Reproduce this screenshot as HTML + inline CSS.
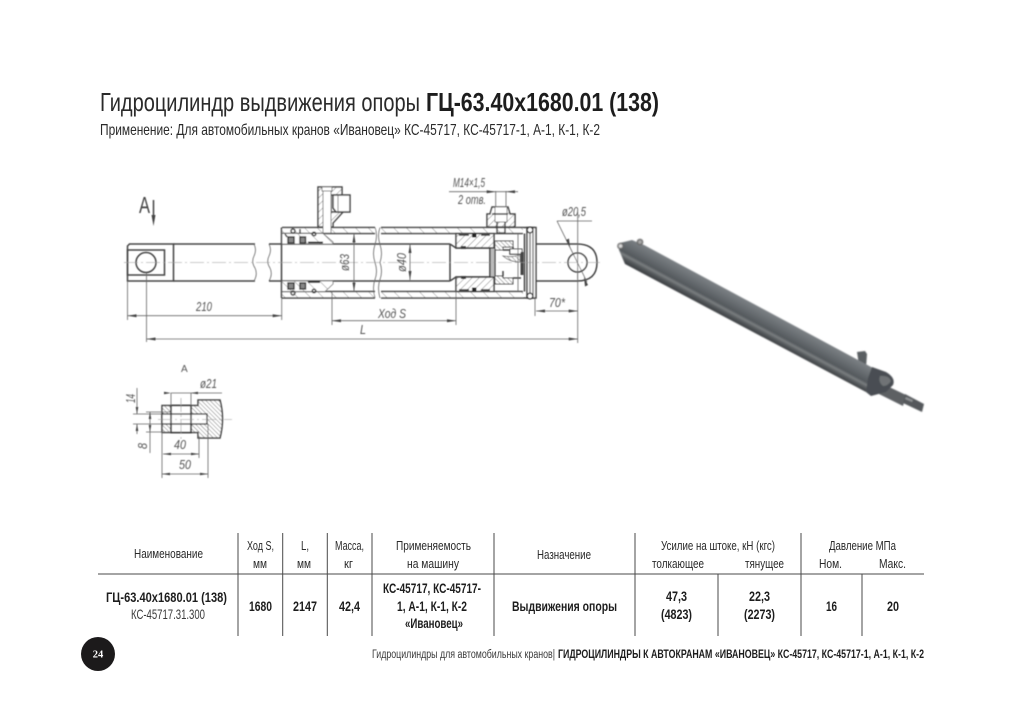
<!DOCTYPE html>
<html lang="ru"><head><meta charset="utf-8"><title>ГЦ-63.40х1680.01 (138)</title>
<style>
html,body{margin:0;padding:0;background:#fff}
svg{display:block}
text{font-family:"Liberation Sans Narrow","Liberation Sans",sans-serif;fill:#2a2a2a}
.b{font-weight:700;fill:#1d1d1d}
.h{font-size:13px;fill:#333}
.v{font-size:14px}
.d{font-family:"Liberation Sans",sans-serif;font-style:italic;font-size:12.5px;fill:#555}
.o{stroke:#444;stroke-width:1.5}
.k{stroke:#333;stroke-width:2}
.t{stroke:#666;stroke-width:.8}
.c{stroke:#999;stroke-width:.6;stroke-dasharray:14 3 2 3}
.a{fill:#444}
</style></head><body>
<svg width="1024" height="724" viewBox="0 0 1024 724" xmlns="http://www.w3.org/2000/svg">
<defs>
<pattern id="hh" width="9" height="9" patternUnits="userSpaceOnUse" patternTransform="rotate(-45)"><rect width="9" height="9" fill="#fff"/><line x1="0" y1="0" x2="0" y2="9" stroke="#888" stroke-width="1"/></pattern>
<pattern id="hm" width="5" height="5" patternUnits="userSpaceOnUse" patternTransform="rotate(45)"><rect width="5" height="5" fill="#fff"/><line x1="0" y1="0" x2="0" y2="5" stroke="#777" stroke-width="1"/></pattern>
<pattern id="hb" width="3" height="3" patternUnits="userSpaceOnUse" patternTransform="rotate(-45)"><rect width="3" height="3" fill="#fff"/><line x1="0" y1="0" x2="0" y2="3" stroke="#666" stroke-width="1"/></pattern>
<filter id="s" x="-5%" y="-5%" width="110%" height="110%"><feGaussianBlur stdDeviation=".4"/></filter>
<filter id="s2" x="-5%" y="-5%" width="110%" height="110%"><feGaussianBlur stdDeviation=".8"/></filter>
<linearGradient id="tube" gradientUnits="userSpaceOnUse" x1="748.800" y1="301.800" x2="737.200" y2="323.400">
<stop offset="0" stop-color="#7b8084"/><stop offset=".35" stop-color="#666b6f"/><stop offset=".62" stop-color="#54595d"/><stop offset=".72" stop-color="#7a7e80"/><stop offset=".84" stop-color="#55595c"/><stop offset="1" stop-color="#3e4144"/>
</linearGradient>
</defs>

<text x="100" y="111" font-size="26" textLength="320" lengthAdjust="spacingAndGlyphs">Гидроцилиндр выдвижения опоры</text>
<text class="b" x="426" y="111" font-size="26" textLength="233" lengthAdjust="spacingAndGlyphs">ГЦ-63.40х1680.01 (138)</text>
<text x="100" y="135" font-size="16" textLength="500" lengthAdjust="spacingAndGlyphs">Применение: Для автомобильных кранов «Ивановец» КС-45717, КС-45717-1, А-1, К-1, К-2</text>

<g filter="url(#s)" fill="none">
<!-- rod left end -->
<path class="o" d="M127.500 246V281H173.500V244H129.500Z"/>
<rect class="o" x="127.500" y="250" width="37" height="25"/>
<circle class="o" cx="146" cy="262.500" r="10"/>
<path class="o" d="M173.500 244H255M173.500 281H255"/>
<path class="t" d="M254 244q3 6 0 12t1 12q3 6-1 13M269 244q3 6 0 12t1 12q3 6-1 13"/>
<path class="o" d="M269 244H450M269 281H450"/>
<!-- tube walls -->
<path fill="url(#hh)" d="M282 227.500H375V233.500H282ZM381 227.500H523V233.500H381ZM282 291.500H375V298H282ZM381 291.500H523V298H381Z"/>
<path class="o" d="M282 227.500H375M282 233.500H375M282 291.500H375M282 298H375M381 227.500H535M381 233.500H523M381 291.500H523M381 298H535M281.500 227.500V298"/>
<path class="t" d="M375 227.500q3 8 0 17t0 18q3 9 0 17t0 18.500M380 227.500q-3 8 0 17t0 18q3 9 0 17t0 18.500"/>
<!-- left gland -->
<path fill="url(#hh)" class="t" d="M282 233.500H323L333 242V244H282ZM282 291.500H325L333 284V281H282Z"/>
<g fill="#888" stroke="#333" stroke-width="1.400"><rect x="288" y="237" width="6" height="6"/><rect x="300" y="237" width="5.500" height="6"/><rect x="288" y="283" width="6" height="6"/><rect x="300" y="283" width="5.500" height="6"/></g>
<path stroke="#222" stroke-width="1.800" d="M308 242.500H323M308 282H320"/>
<path class="o" d="M285 234L287 237M300 229V234"/>
<circle class="o" cx="293" cy="231" r="2"/><circle class="o" cx="293" cy="293" r="2"/>
<circle class="o" cx="314" cy="234" r="1.800"/><circle class="o" cx="314" cy="291" r="1.800"/>
<!-- left port -->
<path fill="url(#hm)" class="o" d="M318 227V187H342V195H331V212H343L333 223V227Z"/>
<path fill="#fff" class="t" d="M323 188H331V233H323Z"/>
<rect x="322" y="187" width="10" height="4" fill="#fff" class="t"/>
<path fill="#fff" class="o" d="M333 195H350V212H336L333 208Z"/>
<path class="t" d="M338 195V212"/>
<!-- piston -->
<path fill="url(#hm)" class="o" d="M456 233.500H494V248H456ZM456 277H494V291.500H456Z"/>
<g fill="#222"><rect x="461" y="246" width="5" height="3"/><rect x="461" y="276" width="5" height="3"/><rect x="472" y="233.500" width="4.500" height="4"/><rect x="472" y="287.500" width="4.500" height="4"/></g>
<path stroke="#222" stroke-width="1.500" d="M459 235H469M481 235H490M459 290H469M481 290H490"/>
<path class="o" d="M450 244L456 248H490V277H456L450 281M450 244V281"/>
<rect x="490" y="248" width="5" height="29" fill="#bbb" stroke="#333" stroke-width="1.200"/>
<!-- piston right section -->
<path fill="url(#hb)" stroke="#555" stroke-width="1" d="M495 241H513V247H503V250H495ZM495 276H503V278H513V284H495Z"/>
<path class="o" d="M503 250H510V254H522M503 276V271M513 278H521M513 247V254"/>
<path fill="url(#hb)" stroke="#666" stroke-width=".8" d="M503 256Q515 258 520 254V262Q510 262 503 256Z"/>
<path fill="#fff" stroke="#444" d="M510 249H522V254H510Z"/>
<rect x="520.500" y="252" width="3" height="23" fill="#444"/>
<path class="o" d="M524.500 233.500V291.500"/>
<path class="t" d="M518 233.500V291.500"/>
<!-- end flange -->
<rect x="527" y="227.500" width="9" height="70.500" fill="#fff" stroke="#444" stroke-width="1.500"/>
<path stroke="#555" stroke-width="1.200" d="M530 228V297M533 228V297"/>
<circle cx="530" cy="230" r="2.800" fill="#fff" stroke="#333" stroke-width="1.300"/>
<circle cx="530" cy="296" r="2.800" fill="#fff" stroke="#333" stroke-width="1.300"/>
<!-- right port -->
<path fill="url(#hm)" class="o" d="M492 207H508L510 214H515V226L513 227H487V214H490Z"/>
<path fill="#fff" class="t" d="M495 207H507V222H495Z"/>
<path class="o" d="M492 214H508M497 222V233H505V222"/>
<!-- right rod & eye -->
<path class="o" d="M536 244H577Q597 244 597 262.500Q597 281 577 281H536"/>
<circle class="o" cx="577.500" cy="262.500" r="9.500" fill="#fff"/>
<line class="c" x1="124" y1="262.500" x2="602" y2="262.500"/>
<line class="c" x1="577.500" y1="246" x2="577.500" y2="279"/>
<!-- dims -->
<g class="t">
<path d="M354 233.500V291.500M410 244V280M127.500 281V320M281.700 298V320M146.500 273V342M332 291V325M456 291V325M535 298V316M577.700 212V343"/>
<path d="M127.500 315.700H281.700M146.500 339H577.700M332 320.700H456M536 311H577.700"/>
<path d="M449 191.700H518M495.700 191V207M506 191V207"/>
<path d="M557 221H592M557 221L587 282"/>
</g>
<g class="a">
<path d="M354 233.500l-1.500 9h3ZM354 291.500l-1.500-9h3ZM410 244l-1.500 9h3ZM410 280l-1.500-9h3Z"/>
<path d="M127.500 315.700l9-1.500v3ZM281.700 315.700l-9-1.500v3ZM146.500 339l9-1.500v3ZM577.700 339l-9-1.500v3ZM332 320.700l9-1.500v3ZM456 320.700l-9-1.500v3ZM536 311l9-1.500v3ZM577.700 311l-9-1.500v3Z"/>
<path d="M495.700 191.700l-9-1.500v3ZM506 191.700l9-1.500v3Z"/>
<path d="M570 248l-4-8 3-1.500ZM584 277l4 8-3 1.500Z"/>
<path d="M153.500 226l-2-11h4Z"/>
</g>
<line class="o" x1="153.500" y1="200" x2="153.500" y2="218"/>
<text class="d" x="196" y="311" textLength="16" lengthAdjust="spacingAndGlyphs">210</text>
<text class="d" x="360" y="334" textLength="6" lengthAdjust="spacingAndGlyphs">L</text>
<text class="d" x="378" y="318" textLength="28" lengthAdjust="spacingAndGlyphs">Ход S</text>
<text class="d" x="549" y="307" textLength="16" lengthAdjust="spacingAndGlyphs">70*</text>
<text class="d" x="453" y="187" textLength="32" lengthAdjust="spacingAndGlyphs">M14×1,5</text>
<text class="d" x="458" y="204" textLength="28" lengthAdjust="spacingAndGlyphs">2 отв.</text>
<text class="d" x="562" y="216" textLength="24" lengthAdjust="spacingAndGlyphs">ø20,5</text>
<text class="d" transform="translate(349,271) rotate(-90)" textLength="17" lengthAdjust="spacingAndGlyphs">ø63</text>
<text class="d" transform="translate(406,272) rotate(-90)" textLength="19" lengthAdjust="spacingAndGlyphs">ø40</text>
<text x="139" y="213" font-size="23" style="font-family:'Liberation Sans',sans-serif;fill:#444" textLength="11" lengthAdjust="spacingAndGlyphs">A</text>

<!-- Section A -->
<path fill="url(#hb)" class="o" d="M162 405.500H198V400H220Q225 419 220 438H198V432.500H162Z"/>
<rect x="171" y="405.500" width="20" height="27" fill="#fff" stroke="#333" stroke-width="1.600"/>
<rect x="162" y="414" width="45" height="10" fill="#fff" stroke="#333" stroke-width="1.300"/>
<path class="o" d="M171 414V424M191 414V424"/>
<line class="c" x1="158" y1="419.500" x2="232" y2="419.500"/>
<line class="c" x1="181" y1="398" x2="181" y2="440"/>
<g class="t">
<path d="M171 393H222M171 393V406M191 393V406"/>
<path d="M133 414H162M133 424H162M137 388V414M137 424V434"/>
<path d="M146 412H171M146 432H171M150 412V453"/>
<path d="M162 432V478M208 424V478M199 438V458M163 454H199M162 474H208"/>
</g>
<g class="a">
<path d="M171 393l-7-1.300v2.600ZM191 393l7-1.300v2.600Z"/>
<path d="M137 414l-1.300-7h2.600ZM137 424l-1.300 7h2.600ZM150 412l-1.300 7h2.600ZM150 432l-1.300-7h2.600Z"/>
<path d="M163 454l8-1.300v2.600ZM199 454l-8-1.300v2.600ZM162 474l8-1.300v2.600ZM208 474l-8-1.300v2.600Z"/>
</g>
<text x="181" y="372" font-size="10" style="font-family:'Liberation Sans',sans-serif;fill:#555">А</text>
<text class="d" x="200" y="388" textLength="17" lengthAdjust="spacingAndGlyphs">ø21</text>
<text class="d" x="174" y="449" textLength="12" lengthAdjust="spacingAndGlyphs">40</text>
<text class="d" x="179" y="469" textLength="12" lengthAdjust="spacingAndGlyphs">50</text>
<text class="d" transform="translate(135,403) rotate(-90)" textLength="9" lengthAdjust="spacingAndGlyphs">14</text>
<text class="d" transform="translate(147,449) rotate(-90)" textLength="6" lengthAdjust="spacingAndGlyphs">8</text>
</g>

<!-- 3D cylinder -->
<g filter="url(#s2)">
<path fill="#5a5e62" d="M857 352L865 351L867 354L866 368L859 365Z"/>
<path fill="url(#tube)" d="M620 243L632 240L644 245L873 368L866 392L625 264L619 250Z"/>
<circle cx="620.500" cy="246" r="2.600" fill="#d8d8d8" stroke="#666" stroke-width="1.400"/>
<circle cx="640" cy="242" r="2.600" fill="#a8a8a8" stroke="#666" stroke-width="1.400"/>
<path fill="#5d6164" d="M885 385L906 395L903 406L879 394Z"/>
<path fill="#4a4e52" d="M872 367L886 372Q896 378 893 385L886 392L871 396L866 392L868 378Z"/>
<path fill="#6f7376" d="M880 376Q889 375 891 381Q888 386 883 386Q878 382 880 376Z"/>
<path fill="#54585b" d="M905 394L924 404L922 412L903 403Z"/>
<path fill="#8f9294" d="M906 397L913 400L912 402L905 399Z"/>
</g>

<!-- table -->
<g stroke="#4a4a4a" stroke-width="1">
<path d="M98 574H924"/>
<path d="M238 533V636M282.700 533V636M327.300 533V636M372 533V636M494 533V636M635 533V636M801 533V636M718 574V636M862 574V636"/>
</g>
<g class="h">
<text x="134" y="558" textLength="69" lengthAdjust="spacingAndGlyphs">Наименование</text>
<text x="247" y="550" textLength="27" lengthAdjust="spacingAndGlyphs">Ход S,</text>
<text x="253" y="568" textLength="14" lengthAdjust="spacingAndGlyphs">мм</text>
<text x="301" y="550" textLength="8" lengthAdjust="spacingAndGlyphs">L,</text>
<text x="297" y="568" textLength="14" lengthAdjust="spacingAndGlyphs">мм</text>
<text x="335" y="550" textLength="29" lengthAdjust="spacingAndGlyphs">Масса,</text>
<text x="344" y="568" textLength="9" lengthAdjust="spacingAndGlyphs">кг</text>
<text x="396" y="550" textLength="75" lengthAdjust="spacingAndGlyphs">Применяемость</text>
<text x="407" y="568" textLength="52" lengthAdjust="spacingAndGlyphs">на машину</text>
<text x="537" y="559" textLength="54" lengthAdjust="spacingAndGlyphs">Назначение</text>
<text x="661" y="550" textLength="114" lengthAdjust="spacingAndGlyphs">Усилие на штоке, кН (кгс)</text>
<text x="652" y="568" textLength="52" lengthAdjust="spacingAndGlyphs">толкающее</text>
<text x="745" y="568" textLength="39" lengthAdjust="spacingAndGlyphs">тянущее</text>
<text x="829" y="550" textLength="67" lengthAdjust="spacingAndGlyphs">Давление МПа</text>
<text x="819" y="568" textLength="23" lengthAdjust="spacingAndGlyphs">Ном.</text>
<text x="879" y="568" textLength="27" lengthAdjust="spacingAndGlyphs">Макс.</text>
</g>
<g class="v">
<text class="b" x="106" y="602" textLength="121" lengthAdjust="spacingAndGlyphs">ГЦ-63.40х1680.01 (138)</text>
<text x="131" y="619" textLength="74" lengthAdjust="spacingAndGlyphs" style="fill:#3a3a3a">КС-45717.31.300</text>
<text class="b" x="249" y="611" textLength="23" lengthAdjust="spacingAndGlyphs">1680</text>
<text class="b" x="293" y="611" textLength="24" lengthAdjust="spacingAndGlyphs">2147</text>
<text class="b" x="339" y="611" textLength="21" lengthAdjust="spacingAndGlyphs">42,4</text>
<text class="b" x="383" y="593" textLength="98" lengthAdjust="spacingAndGlyphs">КС-45717, КС-45717-</text>
<text class="b" x="397" y="611" textLength="70" lengthAdjust="spacingAndGlyphs">1, А-1, К-1, К-2</text>
<text class="b" x="405" y="628" textLength="58" lengthAdjust="spacingAndGlyphs">«Ивановец»</text>
<text class="b" x="512" y="611" textLength="105" lengthAdjust="spacingAndGlyphs">Выдвижения опоры</text>
<text class="b" x="666" y="601" textLength="21" lengthAdjust="spacingAndGlyphs">47,3</text>
<text class="b" x="661" y="619" textLength="31" lengthAdjust="spacingAndGlyphs">(4823)</text>
<text class="b" x="749" y="601" textLength="21" lengthAdjust="spacingAndGlyphs">22,3</text>
<text class="b" x="744" y="619" textLength="31" lengthAdjust="spacingAndGlyphs">(2273)</text>
<text class="b" x="826" y="611" textLength="11" lengthAdjust="spacingAndGlyphs">16</text>
<text class="b" x="887" y="611" textLength="12" lengthAdjust="spacingAndGlyphs">20</text>
</g>

<!-- footer -->
<circle cx="98" cy="654" r="17" fill="#1c1a1b"/>
<text x="98" y="657.500" text-anchor="middle" font-size="10.500" font-weight="700" style="font-family:'Liberation Serif',serif;fill:#fff">24</text>
<text x="372" y="658" font-size="11.500" textLength="183" lengthAdjust="spacingAndGlyphs" style="fill:#3a3a3a">Гидроцилиндры для автомобильных кранов|</text>
<text class="b" x="558" y="658" font-size="11.500" textLength="366" lengthAdjust="spacingAndGlyphs">ГИДРОЦИЛИНДРЫ К АВТОКРАНАМ «ИВАНОВЕЦ» КС-45717, КС-45717-1, А-1, К-1, К-2</text>
</svg>
</body></html>
